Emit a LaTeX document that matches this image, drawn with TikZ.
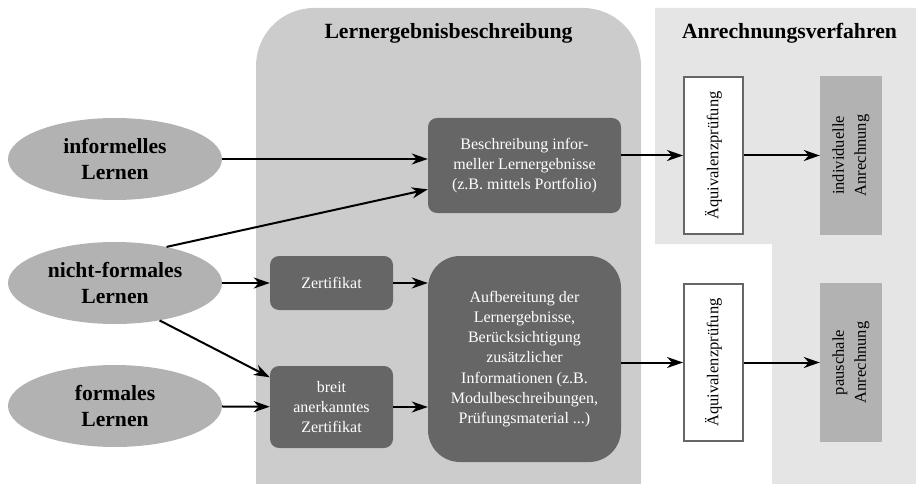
\documentclass[tikz,border=0pt]{standalone}
\usepackage{fontspec}
\setmainfont{LiberationSerif}[Extension=.ttf,UprightFont=*-Regular,BoldFont=*-Bold,ItalicFont=*-Italic,BoldItalicFont=*-BoldItalic]
\usetikzlibrary{shapes.geometric,arrows.meta,calc}
\begin{document}
\begin{tikzpicture}[x=1pt,y=-1pt,
  arr/.style={line width=2pt,-{Stealth[length=16pt,width=11pt,inset=5pt]}},
  learn/.style={ellipse,fill=black!30,minimum width=214pt,minimum height=82pt,inner sep=0pt,
    align=center,font=\fontsize{21.6}{26}\selectfont\bfseries},
  dark/.style={rectangle,rounded corners=9pt,fill=black!60,text=white,inner sep=0pt,
    align=center,font=\fontsize{16}{20.3}\selectfont},
  aeq/.style={rectangle,draw=black!60,line width=2pt,fill=white,rotate=90,
    minimum width=157pt,minimum height=59pt,inner sep=0pt,font=\fontsize{16.5}{20}\selectfont},
  anr/.style={rectangle,fill=black!30,rotate=90,minimum width=159pt,minimum height=62pt,
    inner sep=0pt,align=center,font=\fontsize{16.5}{22}\selectfont},
  title/.style={font=\fontsize{21.7}{25}\selectfont\bfseries,inner sep=0pt}]
\useasboundingbox (0,0) rectangle (916,484);
\clip (0,0) rectangle (916,484);
% background regions
\fill[black!20,rounded corners=58pt] (256,8) rectangle (641,540);
\fill[black!10] (655,8) -- (916,8) -- (916,484) -- (772,484) -- (772,244) -- (655,244) -- cycle;
\node[title] (t1) at (448.5,33) {Lernergebnisbeschreibung};
\node[title] (t2) at (789.5,33) {Anrechnungsverfahren};
% learning forms
\node[learn] (inf) at (115,159) {informelles\\Lernen};
\node[learn] (nic) at (115,283) {nicht-formales\\Lernen};
\node[learn] (frm) at (115,406) {formales\\Lernen};
% middle boxes
\node[dark,minimum width=193pt,minimum height=95pt] (bes) at (524.5,165.5)
  {Beschreibung infor-\\meller Lernergebnisse\\(z.B. mittels Portfolio)};
\node[dark,minimum width=123pt,minimum height=54pt] (zer) at (331.5,283) {Zertifikat};
\node[dark,minimum width=123pt,minimum height=82pt] (bre) at (331.5,407)
  {breit\\anerkanntes\\Zertifikat};
\node[dark,rounded corners=32pt,minimum width=193pt,minimum height=206pt] (auf) at (524.5,359)
  {Aufbereitung der\\Lernergebnisse,\\Berücksichtigung\\zusätzlicher\\Informationen (z.B.\\Modulbeschreibungen,\\Prüfungsmaterial ...)};
% right boxes
\node[aeq] (aq1) at (713.5,155.5) {Äquivalenzprüfung};
\node[aeq] (aq2) at (713.5,362.5) {Äquivalenzprüfung};
\node[anr] (ind) at (851,155.5) {individuelle\\Anrechnung};
\node[anr] (pau) at (851,362.5) {pauschale\\Anrechnung};
% connectors
\draw[arr] (inf.east) -- (bes.west |- inf.east);
\draw[arr] (nic.35) -- ($(bes.west)!0.5!(bes.south west)$);
\draw[arr] (nic) -- (zer);
\draw[arr] (nic.-40) -- ($(bre.north west)!0.14!(bre.south west)$);
\draw[arr] (frm) -- (bre);
\draw[arr] (zer) -- (auf.west |- zer);
\draw[arr] (bre) -- (auf.west |- bre);
\draw[arr] (bes.east |- aq1) -- (aq1);
\draw[arr] (auf.east |- aq2) -- (aq2);
\draw[arr] (aq1) -- (ind);
\draw[arr] (aq2) -- (pau);
\end{tikzpicture}
\end{document}
